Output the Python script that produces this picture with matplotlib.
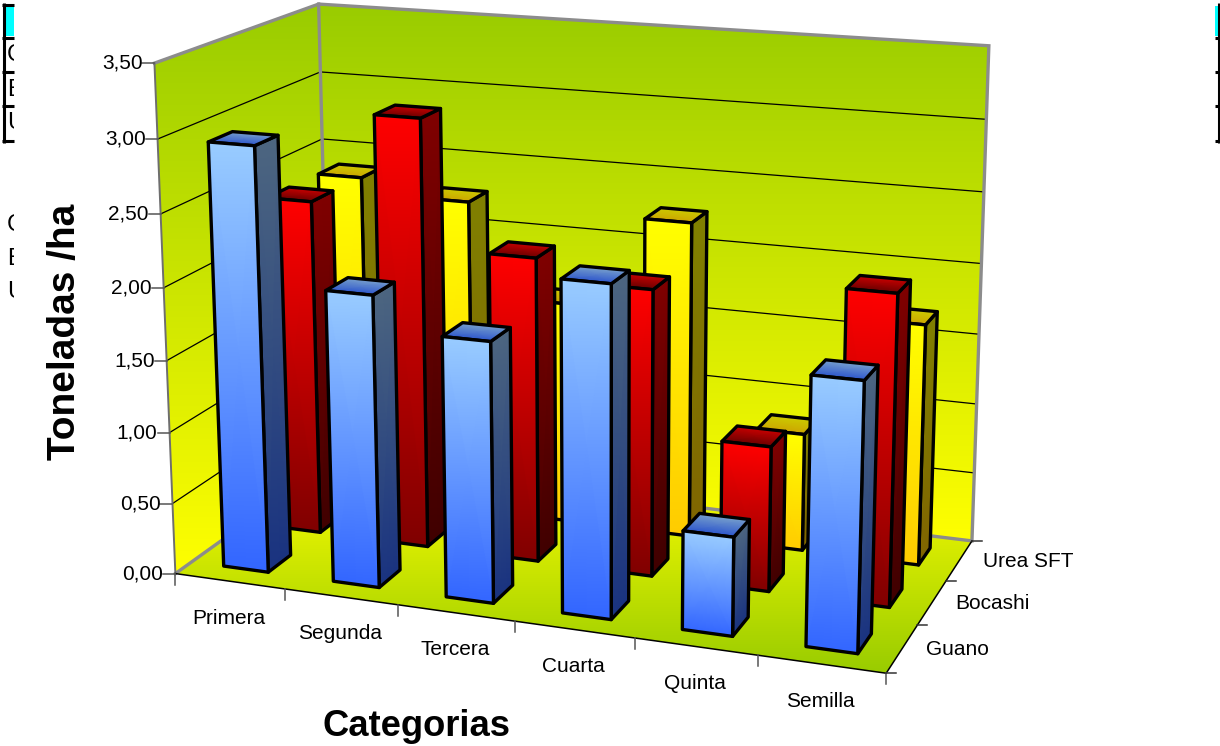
import numpy as np
import matplotlib
matplotlib.use("Agg")
import matplotlib.pyplot as plt
from matplotlib.colors import LinearSegmentedColormap
from matplotlib.patches import Polygon, Rectangle

plt.rcParams['font.family'] = ['Liberation Sans', 'DejaVu Sans']

categories = ['Primera', 'Segunda', 'Tercera', 'Cuarta', 'Quinta', 'Semilla']
series_names = ['Guano', 'Bocashi', 'Urea SFT']
guano = [2.95, 2.02, 1.79, 2.25, 0.67, 1.79]
bocashi = [2.39, 3.03, 2.14, 2.00, 1.01, 2.13]
urea = [2.38, 2.27, 1.60, 2.26, 0.84, 1.70]
y_ticks = [0.0, 0.5, 1.0, 1.5, 2.0, 2.5, 3.0, 3.5]
y_max = 3.5

# top colour, bottom colour of each series
colors = [('#99CCFF', '#3366FF'), ('#FF0000', '#800000'), ('#FFFF00', '#FFCC00')]

bar_w = 0.41
bar_d = 0.42

# box corners (u, v, w) -> pixel, used to solve the perspective camera
box = [((0, 0, 0), (175, 573)), ((1, 0, 0), (886, 674)), ((1, 1, 0), (972, 540)),
       ((0, 1, 0), (331, 463)), ((0, 0, 1), (155, 63)), ((0, 1, 1), (318, 4)),
       ((1, 1, 1), (989, 46))]


def solve_camera(pairs):
    rows = []
    for (u, v, w), (px, py) in pairs:
        rows.append([u, v, w, 1, 0, 0, 0, 0, -px * u, -px * v, -px * w, -px])
        rows.append([0, 0, 0, 0, u, v, w, 1, -py * u, -py * v, -py * w, -py])
    return np.linalg.svd(np.array(rows, float))[2][-1].reshape(3, 4)


cam = solve_camera(box)


def project(u, v, w):
    p = cam @ np.array([u, v, w, 1.0])
    return p[0] / p[2], p[1] / p[2]


def scaled(c, f):
    return tuple(x * f for x in matplotlib.colors.to_rgb(c))


def shade(ax, corners, c_top, c_bot, z):
    # corners: top-left, top-right, bottom-left, bottom-right
    pts = np.array(corners)
    X = pts[:, 0].reshape(2, 2)
    Y = pts[:, 1].reshape(2, 2)
    cmap = LinearSegmentedColormap.from_list('f', [c_bot, c_top])
    ax.pcolormesh(X, Y, np.array([[1.0, 1.0], [0.0, 0.0]]), shading='gouraud',
                  cmap=cmap, vmin=0, vmax=1, zorder=z, rasterized=True)
    outline = [corners[0], corners[1], corners[3], corners[2]]
    ax.add_patch(Polygon(outline, closed=True, fill=False, ec='black', lw=2.4,
                         joinstyle='round', zorder=z + 0.01))


def bar(ax, i, j, val, top, bottom, z):
    u0 = (i + 0.5 - bar_w / 2) / 6
    u1 = (i + 0.5 + bar_w / 2) / 6
    v0 = (j + 0.5 - bar_d / 2) / 3
    v1 = (j + 0.5 + bar_d / 2) / 3
    h = val / y_max
    # side face, top face, then front face
    shade(ax, [project(u1, v0, h), project(u1, v1, h), project(u1, v0, 0), project(u1, v1, 0)],
          scaled(top, 0.5), scaled(bottom, 0.5), z)
    shade(ax, [project(u0, v1, h), project(u1, v1, h), project(u0, v0, h), project(u1, v0, h)],
          scaled(top, 0.8), scaled(bottom, 0.8), z + 0.1)
    shade(ax, [project(u0, v0, h), project(u1, v0, h), project(u0, v0, 0), project(u1, v0, 0)],
          top, bottom, z + 0.2)


def wall(ax, corners, c_top, c_bot, z):
    pts = np.array(corners)
    cmap = LinearSegmentedColormap.from_list('w', [c_top, c_bot])
    clip = Polygon(corners, closed=True, transform=ax.transData, fc='none', ec='none')
    ax.add_patch(clip)
    im = ax.imshow(np.linspace(0, 1, 256).reshape(-1, 1), cmap=cmap, aspect='auto', zorder=z,
                   extent=(pts[:, 0].min(), pts[:, 0].max(), pts[:, 1].max(), pts[:, 1].min()),
                   origin='upper')
    im.set_clip_path(clip)


fig = plt.figure(figsize=(12.2, 7.46), dpi=100)
ax = fig.add_axes([0, 0, 1, 1])

wall(ax, [project(0, 0, 0), project(0, 1, 0), project(0, 1, 1), project(0, 0, 1)], '#99CC00', '#FFFF00', 1)
wall(ax, [project(0, 1, 0), project(1, 1, 0), project(1, 1, 1), project(0, 1, 1)], '#99CC00', '#FFFF00', 1)
wall(ax, [project(0, 0, 0), project(1, 0, 0), project(1, 1, 0), project(0, 1, 0)], '#FFFF00', '#99CC00', 1)

# horizontal gridlines on both walls
for t in y_ticks[1:-1]:
    w = t / y_max
    line = [project(0, 0, w), project(0, 1, w), project(1, 1, w)]
    ax.plot(*zip(*line), color='black', lw=0.9, zorder=2)

# gray frame of the walls
gray = '#8C8C8C'
ax.plot(*zip(project(0, 0, 1), project(0, 1, 1), project(1, 1, 1), project(1, 1, 0), project(0, 1, 0), project(0, 0, 0)),
        color=gray, lw=2.4, zorder=2.5, solid_joinstyle='miter')
ax.plot(*zip(project(0, 1, 1), project(0, 1, 0)), color=gray, lw=2.4, zorder=2.5)
ax.plot(*zip(project(0, 0, 1), project(0, 0, 0)), color='#6E6E6E', lw=1.4, zorder=2.5)

# floor edges and ticks
ax.plot(*zip(project(0, 0, 0), project(1, 0, 0), project(1, 1, 0)), color='black', lw=1.1, zorder=2.6)
for t in y_ticks:
    x, y = project(0, 0, t / y_max)
    ax.plot([x - 12, x], [y, y], color='#555555', lw=1.1, zorder=2.6)
    ax.text(x - 12, y, f'{t:.2f}'.replace('.', ','), ha='right', va='center', fontsize=15, color='black')
for i in range(7):
    x, y = project(i / 6, 0, 0)
    ax.plot([x, x], [y, y + 11], color='#555555', lw=1.1, zorder=2.6)
for i, name in enumerate(categories):
    x, y = project((i + 0.5) / 6, 0, 0)
    ax.text(x - 1, y + 37, name, ha='center', va='center', fontsize=15, color='black')
for j in range(4):
    x, y = project(1, j / 3, 0)
    ax.plot([x, x + 10], [y, y], color='#333333', lw=1.1, zorder=2.6)
for j, name in enumerate(series_names):
    x, y = project(1, (j + 0.5) / 3, 0)
    ax.text(x + 24, y + 1, name, ha='left', va='center', fontsize=15, color='black')

# bars from the back row to the front row
rows = [guano, bocashi, urea]
z = 3.0
for j in [2, 1, 0]:
    for i in range(6):
        bar(ax, i, j, rows[j][i], colors[j][0], colors[j][1], z)
        z += 0.5

ax.text(416, 726, 'Categorias', ha='center', va='center', fontsize=26.2, fontweight='bold')
ax.text(65, 331.5, 'Toneladas /ha', ha='center', va='center', rotation=90, fontsize=28, fontweight='bold')

# leftovers of the table cut off at both edges of the sheet
keep = Rectangle((0, 0), 14, 746, transform=ax.transData, fc='none', ec='none')
ax.add_patch(keep)
ax.add_patch(Rectangle((5, 6), 9, 30, fc='#00FFFF', ec='none', zorder=10))
for yy in [4.5, 37.5, 71.5, 105.5, 141]:
    ax.plot([2, 14], [yy, yy], color='black', lw=2.2, zorder=11, solid_capstyle='butt')
ax.plot([3.5, 3.5], [3, 142.5], color='black', lw=2.2, zorder=11, solid_capstyle='butt')
for yy, s in zip([55, 90, 123, 225, 259, 292], ['C', 'E', 'U', 'C', 'E', 'U']):
    t = ax.text(7, yy, s, ha='left', va='center', fontsize=17, zorder=9)
    t.set_clip_path(keep)
    t.set_clip_on(True)

ax.add_patch(Rectangle((1215, 6), 3, 30, fc='#00FFFF', ec='none', zorder=10))
for yy in [37.5, 71.5, 105.5, 141]:
    ax.plot([1215, 1220], [yy, yy], color='black', lw=2.2, zorder=11, solid_capstyle='butt')
ax.plot([1218.5, 1218.5], [3, 142.5], color='black', lw=2.2, zorder=11, solid_capstyle='butt')

ax.set_xlim(0, 1220)
ax.set_ylim(746, 0)
ax.axis('off')
fig.savefig('out.png', dpi=100, facecolor='white')
